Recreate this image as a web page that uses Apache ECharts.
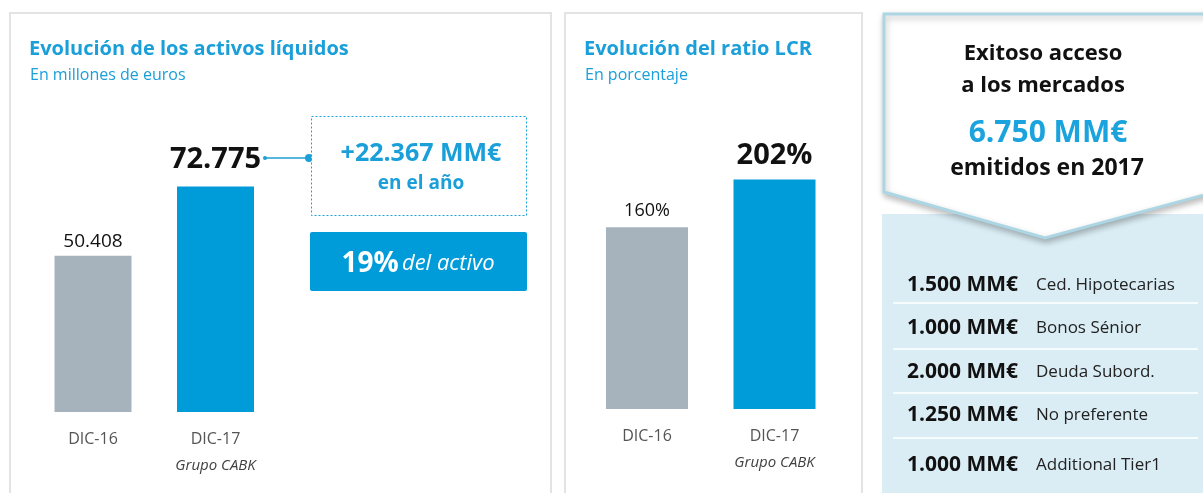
<!DOCTYPE html>
<html><head><meta charset="utf-8">
<script src="https://cdn.jsdelivr.net/npm/echarts@6/dist/echarts.min.js"></script>
<style>html,body{margin:0;padding:0;background:#fff}#c{width:1203px;height:493px}</style>
</head><body><div id="c"></div>
<script>
const categories = ['DIC-16', 'DIC-17'];
const liquidAssets = [50408, 72775];
const lcrRatio = [160, 202];
const issueAmounts = ['1.500 MM€', '1.000 MM€', '2.000 MM€', '1.250 MM€', '1.000 MM€'];
const issueTypes = ['Ced. Hipotecarias', 'Bonos Sénior', 'Deuda Subord.', 'No preferente', 'Additional Tier1'];

const FONT = '"Open Sans", Lato, sans-serif';
const BLUE = '#009bd9';
const GRAY = '#a7b3bc';
const TBLUE = '#1a9fd9';

function fmt(v){ return String(v).replace(/\B(?=(\d{3})+(?!\d))/g, '.'); }

const chart = echarts.init(document.getElementById('c'), null, {renderer:'canvas'});

function axisLabelRich(){
  return {
    color:'#595959', fontFamily:FONT, margin:16,
    formatter: (v) => v === 'DIC-17' ? '{a|' + v + '}\n{b|Grupo CABK}' : '{a|' + v + '}',
    rich:{
      a:{fontSize:16, lineHeight:22, color:'#555555', fontFamily:FONT},
      b:{fontSize:15, lineHeight:32, fontStyle:'italic', color:'#404040', fontFamily:FONT}
    }
  };
}

function barData(vals, fmtFn, smallStyle, bigStyle){
  return vals.map((v,i) => ({
    value:v,
    itemStyle:{color: i === 0 ? GRAY : BLUE},
    label: Object.assign({show:true, position:'top', formatter: () => fmtFn(v), fontFamily:FONT, color:'#111'}, i === 0 ? smallStyle : bigStyle)
  }));
}

function txt(x, y, text, font, fill, align){
  return {type:'text', x:x, y:y, style:{text:text, font:font, fill:fill, textAlign:align || 'left', textVerticalAlign:'middle'}};
}

const graphics = [];
// panel borders
graphics.push({type:'rect', shape:{x:10, y:13, width:541, height:500}, style:{fill:'none', stroke:'#e3e3e3', lineWidth:2}, z:-10});
graphics.push({type:'rect', shape:{x:565, y:13, width:297, height:500}, style:{fill:'none', stroke:'#e3e3e3', lineWidth:2}, z:-10});
// titles
graphics.push(txt(29, 49, 'Evolución de los activos líquidos', 'bold 20px ' + FONT, TBLUE));
graphics.push(txt(30, 75, 'En millones de euros', '16px ' + FONT, TBLUE));
graphics.push(txt(584, 49, 'Evolución del ratio LCR', 'bold 20px ' + FONT, TBLUE));
graphics.push(txt(585, 75, 'En porcentaje', '16px ' + FONT, TBLUE));
// annotation connector
graphics.push({type:'line', shape:{x1:265, y1:158, x2:308, y2:158}, style:{stroke:TBLUE, lineWidth:1.5}});
graphics.push({type:'circle', shape:{cx:265, cy:158, r:2}, style:{fill:TBLUE}});
graphics.push({type:'circle', shape:{cx:309, cy:158, r:4}, style:{fill:TBLUE}});
// dashed box
graphics.push({type:'rect', shape:{x:311.5, y:116.5, width:215, height:99}, style:{fill:'#fff', stroke:TBLUE, lineWidth:1, lineDash:[2,2]}});
graphics.push(txt(421, 154, '+22.367 MM€', 'bold 25px ' + FONT, TBLUE, 'center'));
graphics.push(txt(421, 184, 'en el año', 'bold 19px ' + FONT, TBLUE, 'center'));
// blue box
graphics.push({type:'rect', shape:{x:310, y:232, width:217, height:59, r:2}, style:{fill:BLUE}});
graphics.push({type:'text', x:418, y:264, style:{
  text:'{a|19%} {b|del activo}', textAlign:'center', textVerticalAlign:'middle',
  rich:{a:{font:'bold 28px ' + FONT, fill:'#fff'}, b:{font:'italic 22px ' + FONT, fill:'#fff'}}
}});
// right panel
graphics.push({type:'rect', shape:{x:882, y:214, width:330, height:290}, style:{fill:'#daedf4'}, z:-5});
graphics.push({type:'polygon', shape:{points:[[884,14],[1215,14],[1215,192],[1045,238],[884,192]]},
  style:{fill:'#fff', stroke:'#acd6e3', lineWidth:3, shadowBlur:6, shadowColor:'rgba(0,0,0,0.25)', shadowOffsetX:1, shadowOffsetY:3}, z:-4});
graphics.push(txt(1043, 54, 'Exitoso acceso', 'bold 22px ' + FONT, '#111', 'center'));
graphics.push(txt(1043, 86, 'a los mercados', 'bold 22px ' + FONT, '#111', 'center'));
graphics.push(txt(1048, 133, '6.750 MM€', 'bold 30px ' + FONT, '#1ba3dd', 'center'));
graphics.push(txt(1047, 168, 'emitidos en 2017', 'bold 23px ' + FONT, '#111', 'center'));
const rowY = [285, 328, 372, 415, 465];
const sepY = [303, 349, 393, 438];
issueAmounts.forEach((a,i) => {
  graphics.push(txt(907, rowY[i], a, 'bold 21px ' + FONT, '#111'));
  graphics.push(txt(1036, rowY[i], issueTypes[i], '17px ' + FONT, '#222'));
});
sepY.forEach(y => graphics.push({type:'line', shape:{x1:893, y1:y, x2:1198, y2:y}, style:{stroke:'#fff', lineWidth:1.5}}));

chart.setOption({
  animation:false,
  grid:[
    {left:31.75, width:245, top:102, height:310},
    {left:583.25, width:255, top:125, height:284}
  ],
  xAxis:[
    {type:'category', gridIndex:0, data:categories, axisLine:{show:false}, axisTick:{show:false}, axisLabel:axisLabelRich()},
    {type:'category', gridIndex:1, data:categories, axisLine:{show:false}, axisTick:{show:false}, axisLabel:axisLabelRich()}
  ],
  yAxis:[
    {type:'value', gridIndex:0, min:0, max:100000, show:false, splitLine:{show:false}},
    {type:'value', gridIndex:1, min:0, max:250, show:false, splitLine:{show:false}}
  ],
  series:[
    {type:'bar', xAxisIndex:0, yAxisIndex:0, barWidth:77,
     data: barData(liquidAssets, fmt, {fontSize:19, distance:5}, {fontSize:29, fontWeight:'bold', distance:12})},
    {type:'bar', xAxisIndex:1, yAxisIndex:1, barWidth:82,
     data: barData(lcrRatio, v => v + '%', {fontSize:18, distance:7}, {fontSize:29, fontWeight:'bold', distance:9})}
  ],
  graphic: graphics
});
</script></body></html>
